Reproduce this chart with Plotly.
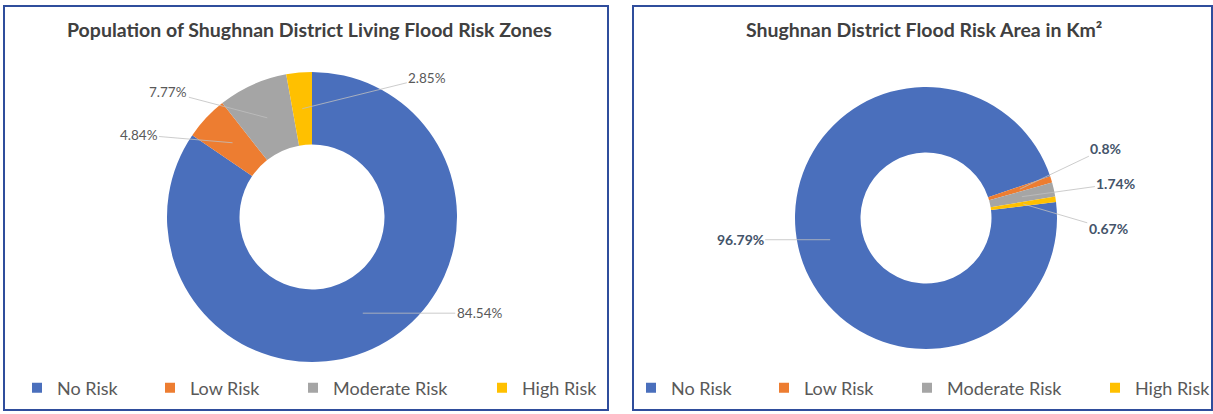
import math
import plotly.graph_objects as go

# ---------------- data ----------------
categories = ["No Risk", "Low Risk", "Moderate Risk", "High Risk"]
population_pct = [84.54, 4.84, 7.77, 2.85]
area_pct = [96.79, 0.8, 1.74, 0.67]
population_labels = ["84.54%", "4.84%", "7.77%", "2.85%"]
area_labels = ["96.79%", "0.8%", "1.74%", "0.67%"]
title_left = "Population of Shughnan District Living Flood Risk Zones"
title_right = "Shughnan District Flood Risk Area in Km²"

# ---------------- style / layout ----------------
W, H = 1213, 414
colors = ["#4A6FBC", "#ED7D31", "#A5A5A5", "#FFC000"]
FONT = "Lato, 'Open Sans', sans-serif"
HOLE = 0.5

# pie geometry (pixels): center x, center y, outer radius, rotation
left_geo = dict(cx=312, cy=217, r=145, rot=0)
right_geo = dict(cx=926, cy=218, r=131, rot=83)

# label offsets (pixels, text centre relative to anchor)
left_offsets = [(117, 0), (-94, -8), (-99, -26), (125, -31)]
right_offsets = [(-90, 0), (86, -41), (94, -13), (85, 25)]

# legend entry positions (pixels, left edge of each legend entry)
left_legend_x = [17, 150, 293, 482]
right_legend_x = [631, 764, 907, 1095]
LEGEND_Y = 388


def domain(g):
    return dict(
        x=[(g["cx"] - g["r"]) / W, (g["cx"] + g["r"]) / W],
        y=[1 - (g["cy"] + g["r"]) / H, 1 - (g["cy"] - g["r"]) / H],
    )


fig = go.Figure()
fig.add_trace(go.Pie(
    labels=categories, values=population_pct, hole=HOLE, sort=False,
    direction="clockwise", rotation=left_geo["rot"], domain=domain(left_geo),
    marker=dict(colors=colors, line=dict(width=0)), textinfo="none",
    hoverinfo="label+percent", showlegend=False,
))
fig.add_trace(go.Pie(
    labels=categories, values=area_pct, hole=HOLE, sort=False,
    direction="clockwise", rotation=right_geo["rot"], domain=domain(right_geo),
    marker=dict(colors=colors, line=dict(width=0)), textinfo="none",
    hoverinfo="label+percent", showlegend=False,
))

# legend entries (one legend per entry so spacing follows the reference)
legend_font = dict(family=FONT, size=18, color="#595959")
legend_layouts = {}
k = 1
for xs in (left_legend_x, right_legend_x):
    for cat, col, lx in zip(categories, colors, xs):
        lid = "legend" if k == 1 else f"legend{k}"
        fig.add_trace(go.Scatter(
            x=[None], y=[None], mode="markers", name=cat,
            marker=dict(symbol="square", size=10, color=col),
            legend=lid, showlegend=True, hoverinfo="skip",
        ))
        legend_layouts[lid] = dict(
            orientation="h", x=lx / W, y=1 - LEGEND_Y / H, xanchor="left",
            yanchor="middle", font=legend_font, bgcolor="rgba(0,0,0,0)",
            borderwidth=0,
        )
        k += 1

annotations = []


def add_labels(values, texts, g, offsets, font):
    total = sum(values)
    start = g["rot"]
    rmid = g["r"] * (1 + HOLE) / 2
    for v, t, (ax, ay) in zip(values, texts, offsets):
        mid = math.radians(start + 360 * v / total / 2)
        px = g["cx"] + rmid * math.sin(mid)
        py = g["cy"] - rmid * math.cos(mid)
        annotations.append(dict(
            x=px / W, y=1 - py / H, xref="paper", yref="paper",
            text=t, showarrow=True, arrowhead=0, arrowwidth=0.8,
            arrowcolor="#BFBFBF", ax=ax, ay=ay, standoff=0,
            font=font,
        ))
        start += 360 * v / total


add_labels(population_pct, population_labels, left_geo, left_offsets,
           dict(family=FONT, size=13.5, color="#595959"))
add_labels(area_pct, area_labels, right_geo, right_offsets,
           dict(family=FONT, size=14, color="#44546A", weight="bold"))

title_font = dict(family=FONT, size=19.5, color="#404040")
annotations.append(dict(x=309 / W, y=1 - 30 / H, xref="paper", yref="paper",
                        xanchor="center", yanchor="middle",
                        text="<b>" + title_left + "</b>", showarrow=False,
                        font=title_font))
annotations.append(dict(x=924 / W, y=1 - 30 / H, xref="paper", yref="paper",
                        xanchor="center", yanchor="middle",
                        text="<b>" + title_right + "</b>", showarrow=False,
                        font=title_font))

shapes = [
    dict(type="rect", xref="paper", yref="paper", x0=4 / W, x1=608 / W,
         y0=1 - 410 / H, y1=1 - 6 / H, line=dict(color="#2F4D9C", width=2)),
    dict(type="rect", xref="paper", yref="paper", x0=633 / W, x1=1212 / W,
         y0=1 - 410 / H, y1=1 - 6 / H, line=dict(color="#2F4D9C", width=2)),
]

fig.update_layout(
    width=W, height=H, autosize=False,
    margin=dict(l=0, r=0, t=0, b=0, autoexpand=False),
    paper_bgcolor="white", plot_bgcolor="rgba(0,0,0,0)",
    xaxis=dict(visible=False, showgrid=False, zeroline=False),
    yaxis=dict(visible=False, showgrid=False, zeroline=False),
    annotations=annotations, shapes=shapes,
    **legend_layouts,
)

fig.write_html("out.html")
